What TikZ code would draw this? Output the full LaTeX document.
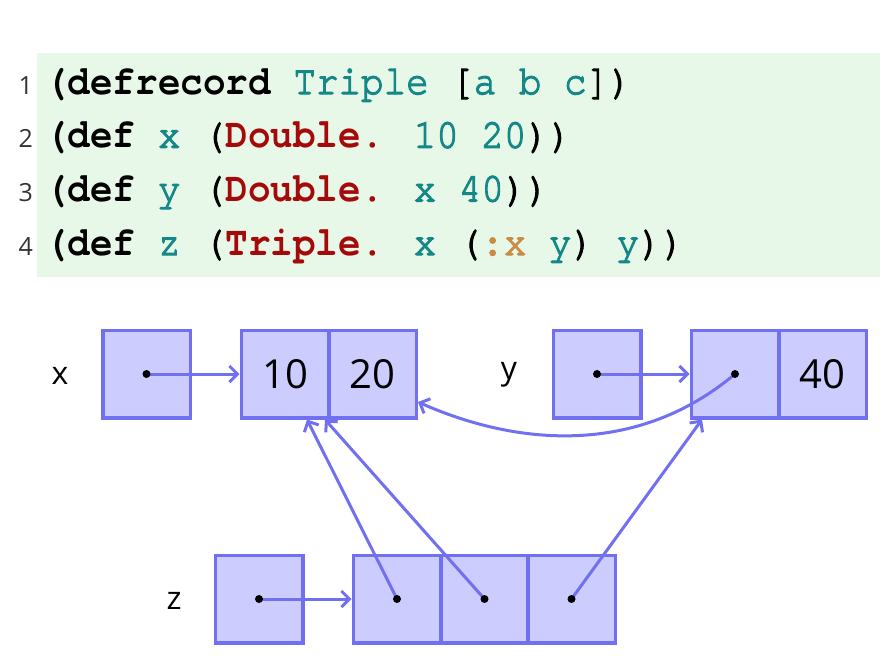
\documentclass[tikz,border=0pt]{standalone}
\usepackage{fontspec}
\setsansfont{Open Sans}
\newfontfamily\codefont{texgyrecursor}[Extension=.otf,UprightFont=*-regular,BoldFont=*-bold,UprightFeatures={FakeBold=3}]
\usetikzlibrary{arrows.meta}
\definecolor{codebg}{RGB}{232,248,232}
\definecolor{codeteal}{RGB}{20,135,135}
\definecolor{codered}{RGB}{165,10,10}
\definecolor{codeorange}{RGB}{200,140,70}
\definecolor{cellfill}{RGB}{204,204,255}
\definecolor{cellborder}{RGB}{112,112,240}
\newcommand\CTeal[1]{\textcolor{codeteal}{#1}}
\newcommand\CRed[1]{\textcolor{codered}{\bfseries #1}}
\newcommand\COrange[1]{\textcolor{codeorange}{#1}}
\newcommand\CLine[1]{\scalebox{1}[1.1]{#1}}
\begin{document}
\begin{tikzpicture}[x=1pt,y=-1pt,
  code/.style={anchor=base west,inner sep=0pt,font=\codefont\fontsize{37.6}{40}\selectfont},
  lnum/.style={anchor=base east,inner sep=0pt,text=black!80,font=\sffamily\fontsize{25}{27}\selectfont},
  cell/.style={draw=cellborder,fill=cellfill,line width=3.5pt,minimum size=87.5pt,inner sep=0pt,font=\sffamily\fontsize{40}{44}\selectfont},
  lab/.style={anchor=base,inner sep=0pt,font=\sffamily\fontsize{32}{34}\selectfont},
  ptr/.style={draw=cellborder,line width=3pt,-{Straight Barb[length=8pt,width=16pt,line width=3pt]}},
  dot/.style={fill=black}]
\useasboundingbox (0,0) rectangle (884,656);
\fill[codebg] (37,53) rectangle (880,277);
% code lines
\node[lnum] (n1) at (33,94) {1};
\node[lnum] (n2) at (33,147.7) {2};
\node[lnum] (n3) at (33,201.4) {3};
\node[lnum] (n4) at (33,255) {4};
\node[code] (l1) at (45,94) {\CLine{{\bfseries(defrecord} \CTeal{Triple} [\CTeal{a b c}])}};
\node[code] (l2) at (45,147.7) {\CLine{{\bfseries(def} \CTeal{x} (\CRed{Double.} \CTeal{10 20}))}};
\node[code] (l3) at (45,201.4) {\CLine{{\bfseries(def} \CTeal{y} (\CRed{Double.} \CTeal{x 40}))}};
\node[code] (l4) at (45,255) {\CLine{{\bfseries(def} \CTeal{z} (\CRed{Triple.} \CTeal{x} (\COrange{:x} \CTeal{y}) \CTeal{y}))}};
% labels
\node[lab] (lx) at (60,384) {x};
\node[lab] (ly) at (509,379) {y};
\node[lab] (lz) at (174,609) {z};
% cells
\node[cell] (xb) at (146.5,374) {};
\node[cell] (dx1) at (285,374) {10};
\node[cell] (dx2) at (372.5,374) {20};
\node[cell] (yb) at (597,374) {};
\node[cell] (dy1) at (735,374) {};
\node[cell] (dy2) at (822.5,374) {40};
\node[cell] (zb) at (259,599) {};
\node[cell] (t1) at (397,599) {};
\node[cell] (t2) at (484.5,599) {};
\node[cell] (t3) at (571.5,599) {};
% pointers
\draw[ptr] (xb.center) -- (dx1.west);
\draw[ptr] (yb.center) -- (dy1.west);
\draw[ptr] (zb.center) -- (t1.west);
\draw[ptr] (dy1.center) .. controls +(-95,80) and +(104,46) .. ([yshift=-28pt]dx2.east);
\draw[ptr] (t1.center) -- ([xshift=22pt]dx1.south);
\draw[ptr] (t2.center) -- ([xshift=40pt]dx1.south);
\draw[ptr] (t3.center) -- ([xshift=-33pt]dy1.south);
% dots
\foreach \c in {xb,yb,dy1,zb,t1,t2,t3} \fill[dot] (\c.center) circle (4pt);
\end{tikzpicture}
\end{document}
